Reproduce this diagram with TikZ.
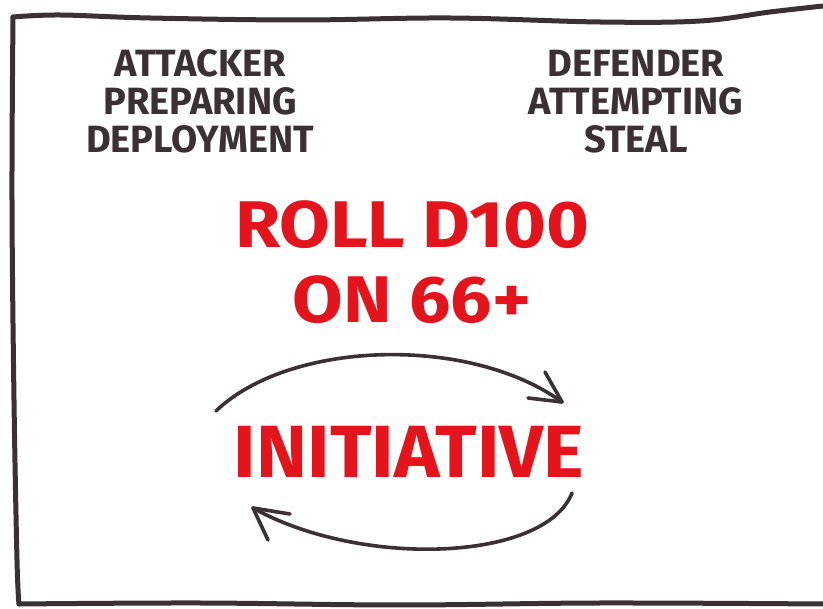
\documentclass[tikz,border=0pt]{standalone}
\usepackage{fontspec}
\setmainfont{Fira Sans}
\definecolor{ink}{HTML}{3B3033}
\definecolor{redink}{HTML}{E3141B}
\tikzset{
  frame/.style={draw=ink, line width=5pt, line cap=round, line join=round},
  arc/.style={draw=ink, line width=3.6pt, line cap=round, line join=round},
  graytext/.style={text=ink, align=center, inner sep=0pt, font=\bfseries\fontsize{38}{38}\selectfont},
  redtext/.style={text=redink, align=center, inner sep=0pt, xscale=1.11, font=\bfseries\fontsize{66}{75}\selectfont},
  bigred/.style={text=redink, inner sep=0pt, xscale=1.04, font=\bfseries\fontsize{74}{80}\selectfont}
}
\begin{document}
\begin{tikzpicture}[x=1pt,y=-1pt]
\useasboundingbox[fill=white] (0,0) rectangle (823,609);
% frame
\draw[frame] plot[smooth, tension=0.6] coordinates {(823,6) (770,12) (700,21) (600,22) (450,18) (300,20) (150,18) (60,15) (13,17)};
\draw[frame] plot[smooth, tension=0.6] coordinates {(13,17) (12,200) (14,400) (17,560) (19,604)};
\draw[frame] plot[smooth, tension=0.6] coordinates {(19,604) (200,603) (400,605) (600,603) (823,604)};
% texts
\node[graytext] (att) at (200,101) {ATTACKER\\PREPARING\\DEPLOYMENT};
\node[graytext] (def) at (636,102) {DEFENDER\\ATTEMPTING\\STEAL};
\node[redtext] (roll) at (412,262) {ROLL D100\\ON 66+};
\node[bigred] (ini) at (409,452) {INITIATIVE};
% arrows
\coordinate (t1) at (216,411);
\coordinate (t2) at (562,402);
\coordinate (b1) at (572,493);
\coordinate (b2) at (253,508);
\draw[arc] (t1) .. controls (290,340) and (470,335) .. (t2);
\draw[arc] (545,372) -- (t2) -- (528,398);
\draw[arc] (b1) .. controls (545,562) and (360,568) .. (b2);
\draw[arc] (268,540) -- (b2) -- (290,514);
\end{tikzpicture}
\end{document}
